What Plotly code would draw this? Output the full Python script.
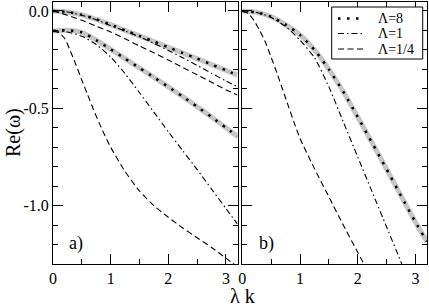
import plotly.graph_objects as go

# ---------------- data ----------------
x_grid = [0, 0.25, 0.5, 0.75, 1, 1.25, 1.5, 1.75, 2, 2.25, 2.5, 2.75, 3, 3.2]

# panel a) upper branch
a_up_L8 = [0, -0.005, -0.02, -0.043, -0.07, -0.1, -0.128, -0.157, -0.187, -0.216, -0.245, -0.275, -0.305, -0.33]
a_up_L1 = [0, -0.005, -0.022, -0.045, -0.075, -0.103, -0.133, -0.167, -0.203, -0.24, -0.28, -0.32, -0.36, -0.39]
a_up_Lq = [0, -0.022, -0.048, -0.078, -0.108, -0.143, -0.18, -0.215, -0.252, -0.29, -0.328, -0.366, -0.405, -0.432]
# panel a) lower branch
a_lo_L8 = [-0.103, -0.099, -0.11, -0.15, -0.197, -0.245, -0.293, -0.341, -0.39, -0.44, -0.492, -0.545, -0.6, -0.645]
a_lo_L1 = [-0.103, -0.108, -0.13, -0.172, -0.237, -0.322, -0.42, -0.52, -0.62, -0.718, -0.815, -0.915, -1.015, -1.095]
x_a_lo_Lq = [0, 0.1, 0.2, 0.3, 0.4, 0.5, 0.6, 0.7, 0.8, 0.9, 1.0, 1.25, 1.5, 1.75, 2.0, 2.25, 2.5, 2.75, 3.0, 3.2]
a_lo_Lq = [-0.103, -0.112, -0.14, -0.205, -0.278, -0.355, -0.43, -0.505, -0.575, -0.64, -0.7, -0.825, -0.925,
           -1.0, -1.06, -1.115, -1.165, -1.215, -1.27, -1.315]

# panel b)
b_L8 = [0, -0.007, -0.03, -0.07, -0.123, -0.2, -0.3, -0.415, -0.545, -0.678, -0.813, -0.95, -1.085, -1.185]
x_b_L1 = [0, 0.25, 0.5, 0.75, 1, 1.25, 1.5, 1.75, 2, 2.25, 2.5, 2.75, 2.8]
b_L1 = [0, -0.008, -0.033, -0.08, -0.15, -0.24, -0.39, -0.57, -0.75, -0.93, -1.11, -1.29, -1.33]
x_b_Lq = [0, 0.1, 0.2, 0.3, 0.4, 0.5, 0.6, 0.7, 0.8, 0.9, 1.0, 1.25, 1.5, 1.75, 2.0, 2.2]
b_Lq = [0, -0.012, -0.048, -0.1, -0.16, -0.238, -0.318, -0.405, -0.49, -0.575, -0.655, -0.81, -0.955, -1.1, -1.24, -1.35]

legend_names = ["Λ=8", "Λ=1", "Λ=1/4"]
y_tickvals = [0, -0.5, -1.0]
y_ticktext = ["0.0", "-0.5", "-1.0"]
x_tickvals = [0, 1, 2, 3]
x_ticktext = ["0", "1", "2", "3"]

# ---------------- figure ----------------
FONT = '"Liberation Serif", "Times New Roman", serif'
GRAY = "#c6c6c6"
DOT = "2.5px,6.5px"
DASHDOT = "6px,3px,1.5px,3px"
DASH = "6px,3.5px"
dot_style = dict(color="black", width=2.5, dash=DOT, shape="spline", smoothing=0.6)
dashdot_style = dict(color="black", width=1.1, dash=DASHDOT, shape="spline", smoothing=0.6)
dash_style = dict(color="black", width=1.1, dash=DASH, shape="spline", smoothing=0.6)

fig = go.Figure()

def add(x, y, style, xa, ya, gray=False):
    if gray:
        fig.add_trace(go.Scatter(x=x, y=y, mode="lines", xaxis=xa, yaxis=ya,
                                 line=dict(color=GRAY, width=5, shape="spline", smoothing=0.6),
                                 showlegend=False, hoverinfo="skip"))
    fig.add_trace(go.Scatter(x=x, y=y, mode="lines", xaxis=xa, yaxis=ya, line=style,
                             showlegend=False))

# panel a
add(x_grid, a_up_L8, dot_style, "x", "y", gray=True)
add(x_grid, a_lo_L8, dot_style, "x", "y", gray=True)
add(x_grid, a_up_L1, dashdot_style, "x", "y")
add(x_grid, a_lo_L1, dashdot_style, "x", "y")
add(x_grid, a_up_Lq, dash_style, "x", "y")
add(x_a_lo_Lq, a_lo_Lq, dash_style, "x", "y")
# panel b
add(x_grid, b_L8, dot_style, "x2", "y2", gray=True)
add(x_b_L1, b_L1, dashdot_style, "x2", "y2")
add(x_b_Lq, b_Lq, dash_style, "x2", "y2")

W, H = 429, 306
ML, MR, MT, MB = 53, 2, 2, 42
PW, PH = W - ML - MR, H - MT - MB

def px_x(px):
    return (px - ML) / PW

def px_y(py):
    return 1 - (py - MT) / PH

common_x = dict(range=[0, 3.2], tickvals=x_tickvals, ticktext=x_ticktext, ticks="inside",
                ticklen=10, tickwidth=1, tickcolor="black", showline=True, linecolor="black",
                linewidth=1, mirror="ticks", showgrid=False, zeroline=False, automargin=False,
                tickfont=dict(family=FONT, size=16, color="black"),
                minor=dict(dtick=0.5, tick0=0, ticks="inside", ticklen=5, tickcolor="black",
                           tickwidth=1, showgrid=False))
common_y = dict(range=[-1.3, 0.046], tickvals=y_tickvals, ticktext=y_ticktext, ticks="inside",
                ticklen=10, tickwidth=1, tickcolor="black", showline=True, linecolor="black",
                linewidth=1, mirror="ticks", showgrid=False, zeroline=False, automargin=False,
                tickfont=dict(family=FONT, size=16, color="black"),
                minor=dict(dtick=0.1, tick0=0, ticks="inside", ticklen=5, tickcolor="black",
                           tickwidth=1, showgrid=False))

# compact legend box (decoration), drawn in paper coordinates
legend_box = (331.7, 7, 422.7, 59)
legend_rows = [18.5, 33.5, 49]
legend_dashes = [(DOT, 2.5), (DASHDOT, 1.1), (DASH, 1.1)]
shapes = [dict(type="rect", xref="paper", yref="paper", layer="above",
               x0=px_x(legend_box[0]), x1=px_x(legend_box[2]),
               y0=px_y(legend_box[3]), y1=px_y(legend_box[1]),
               line=dict(color="black", width=1), fillcolor="white")]
annotations = []
for row, (dsh, lw), name in zip(legend_rows, legend_dashes, legend_names):
    shapes.append(dict(type="line", xref="paper", yref="paper", layer="above",
                       x0=px_x(338), x1=px_x(363), y0=px_y(row), y1=px_y(row),
                       line=dict(color="black", width=lw, dash=dsh)))
    annotations.append(dict(text=name, xref="paper", yref="paper", x=px_x(376), y=px_y(row),
                            xanchor="left", yanchor="middle", showarrow=False,
                            font=dict(family=FONT, size=14, color="black")))

annotations += [
    dict(text="Re(ω)", xref="paper", yref="paper", x=px_x(13), y=px_y(133),
         textangle=-90, showarrow=False, xanchor="center", yanchor="middle",
         font=dict(family=FONT, size=20, color="black")),
    dict(text="λ k", xref="paper", yref="paper", x=px_x(242), y=px_y(296),
         showarrow=False, xanchor="center", yanchor="middle",
         font=dict(family=FONT, size=20, color="black")),
    dict(text="a)", xref="paper", yref="paper", x=px_x(76), y=px_y(243),
         showarrow=False, xanchor="center", yanchor="middle",
         font=dict(family=FONT, size=18, color="black")),
    dict(text="b)", xref="paper", yref="paper", x=px_x(266), y=px_y(243),
         showarrow=False, xanchor="center", yanchor="middle",
         font=dict(family=FONT, size=18, color="black")),
]

fig.update_layout(
    width=W, height=H,
    margin=dict(l=ML, r=MR, t=MT, b=MB, pad=0, autoexpand=False),
    paper_bgcolor="white", plot_bgcolor="white",
    font=dict(family=FONT, color="black"),
    xaxis=dict(domain=[0, px_x(237.5)], anchor="y", **common_x),
    yaxis=dict(domain=[0, 1], anchor="x", **common_y),
    xaxis2=dict(domain=[px_x(242.3), 1], anchor="y2", **common_x),
    yaxis2=dict(domain=[0, 1], anchor="x2", showticklabels=False, **common_y),
    showlegend=False,
    shapes=shapes,
    annotations=annotations,
)

fig.write_html("out.html", config={"displayModeBar": False},
               post_script="document.body.style.margin='0px';")
